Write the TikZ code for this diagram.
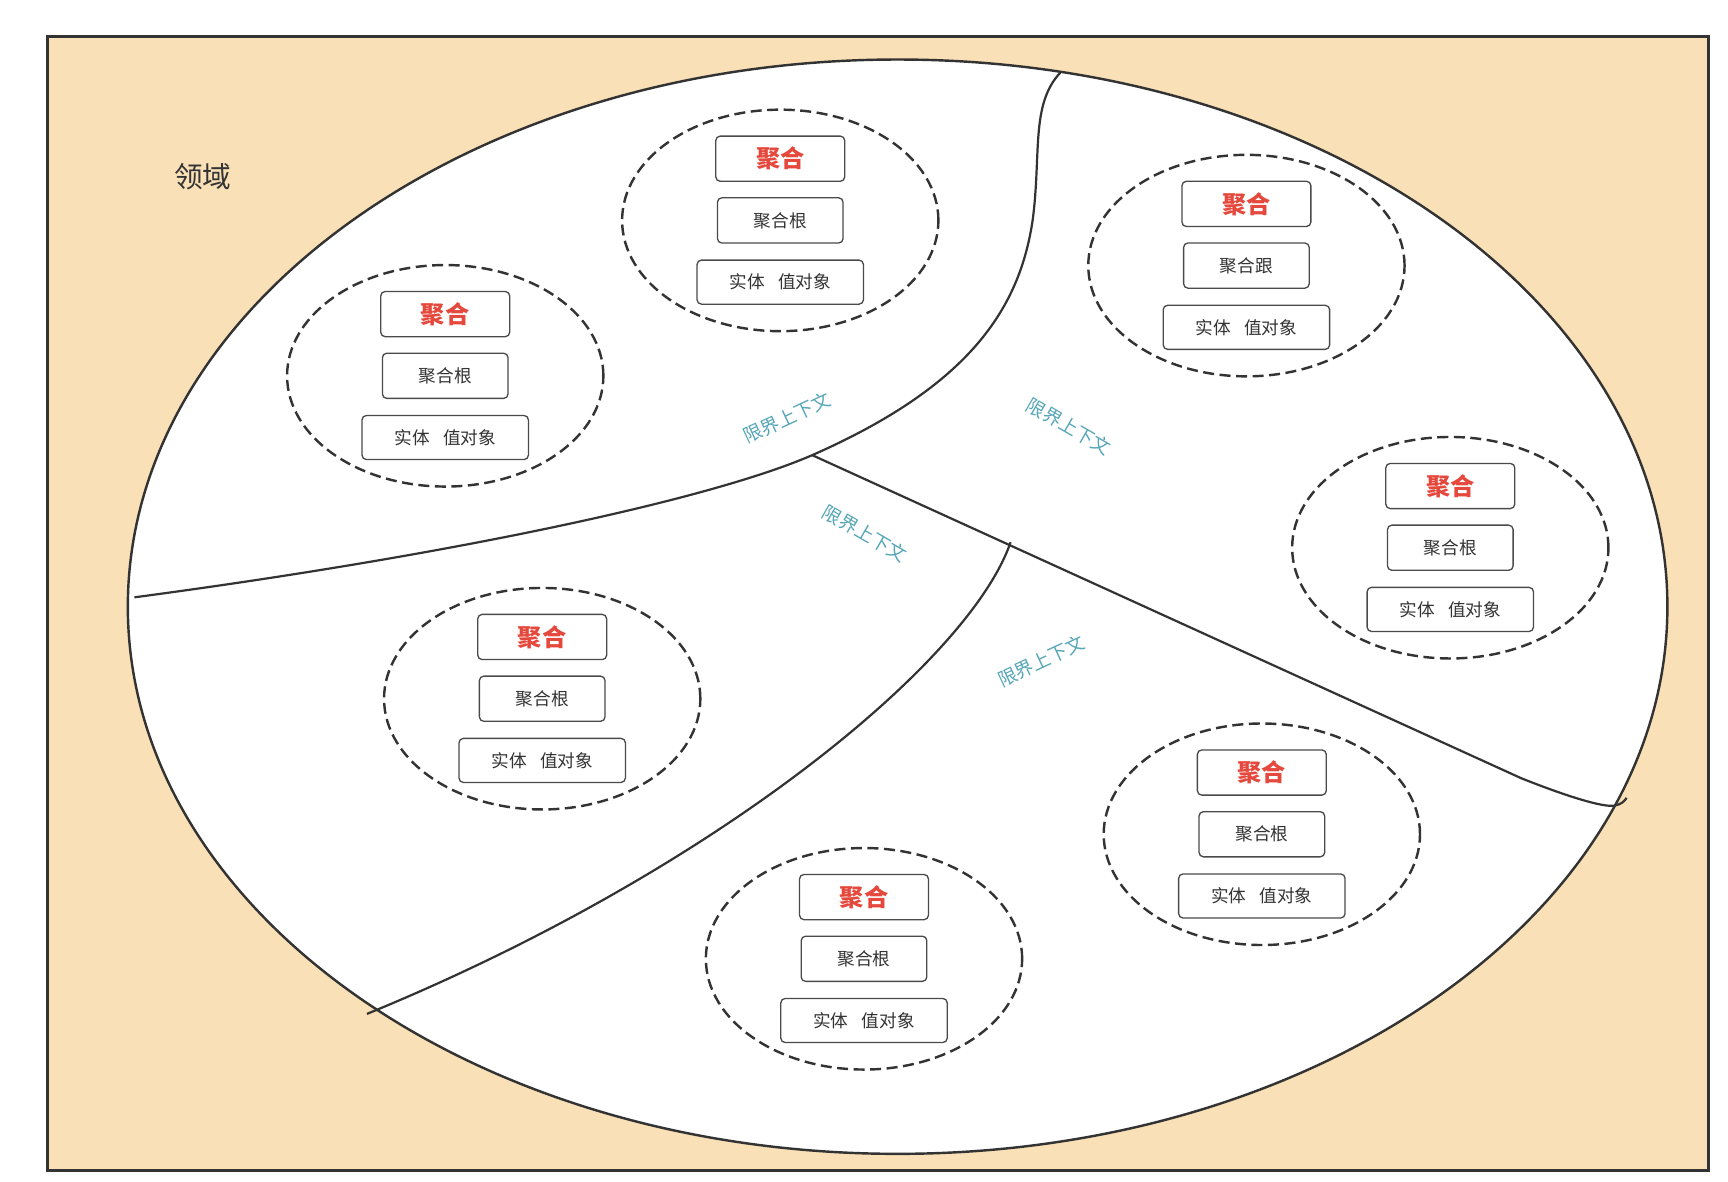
\documentclass[tikz,border=0pt]{standalone}
\usepackage{fontspec}
\setmainfont{Noto Sans CJK SC}
\usetikzlibrary{shapes.geometric}
\definecolor{domainfill}{HTML}{F9E0B7}
\definecolor{lineclr}{HTML}{333333}
\definecolor{boxline}{HTML}{4A4A4A}
\definecolor{textdark}{HTML}{333333}
\definecolor{aggred}{HTML}{E5483C}
\definecolor{bctext}{HTML}{55A6B8}
\newcommand\aggcluster[4]{%
  \node[aggell] (#1) at (#2,#3) {};
  \node[aggbox,aggtitle] (#1t) at (#2,#3-56) {聚合};
  \node[aggbox,aggroot] (#1r) at (#2,#3) {#4};
  \node[aggbox,aggent] (#1e) at (#2,#3+56) {实体\hspace{0.75em}值对象};
}
\begin{document}
\begin{tikzpicture}[x=1pt,y=-1pt,
  aggell/.style={ellipse, draw=lineclr, dash pattern=on 10pt off 5pt, line width=2.2pt,
    minimum width=287pt, minimum height=201pt, inner sep=0pt},
  aggbox/.style={draw=boxline, line width=1.2pt, rounded corners=4pt, fill=white,
    minimum height=41pt, inner sep=0pt, text=textdark, font=\fontsize{16}{16}\selectfont},
  aggtitle/.style={minimum width=117pt, text=aggred, font=\fontsize{22}{22}\selectfont\bfseries},
  aggroot/.style={minimum width=114pt},
  aggent/.style={minimum width=151pt, minimum height=40pt},
  divider/.style={draw=lineclr, line width=2pt},
  bclabel/.style={text=bctext, font=\fontsize{17}{17}\selectfont, inner sep=0pt}
]
\useasboundingbox (0,0) rectangle (1568,1072);
\fill[white] (0,0) rectangle (1568,1072);
% domain
\draw[fill=domainfill, draw=lineclr, line width=2.4pt] (43,33) rectangle (1550,1062);
\node[text=textdark, font=\fontsize{26}{26}\selectfont] (domain) at (184,160) {领域};
% big ellipse
\draw[fill=white, draw=lineclr, line width=2.2pt] (814.5,550.5) ellipse [x radius=698.5pt, y radius=496.5pt];
% dividers
\draw[divider] (122,542) .. controls (400,505) and (640,455) .. (737,413)
  .. controls (880,350) and (925,280) .. (937,200)
  .. controls (945,140) and (935,95) .. (962,66);
\draw[divider] (737,413) -- (1380,706) .. controls (1420,722) and (1455,733) .. (1465,731)
  .. controls (1471,730) and (1474,727) .. (1476,724);
\draw[divider] (917,492) .. controls (880,600) and (650,790) .. (333,920);
% bounded context labels
\node[bclabel, rotate=25] (bc1) at (714,379) {限界上下文};
\node[bclabel, rotate=-30] (bc2) at (970,387) {限界上下文};
\node[bclabel, rotate=-30] (bc3) at (785,484) {限界上下文};
\node[bclabel, rotate=25] (bc4) at (945,600) {限界上下文};
% aggregates
\aggcluster{ca}{708}{200}{聚合根}
\aggcluster{cb}{404}{341}{聚合根}
\aggcluster{cc}{1131}{241}{聚合跟}
\aggcluster{cd}{1316}{497}{聚合根}
\aggcluster{ce}{492}{634}{聚合根}
\aggcluster{cf}{1145}{757}{聚合根}
\aggcluster{cg}{784}{870}{聚合根}
\end{tikzpicture}
\end{document}
